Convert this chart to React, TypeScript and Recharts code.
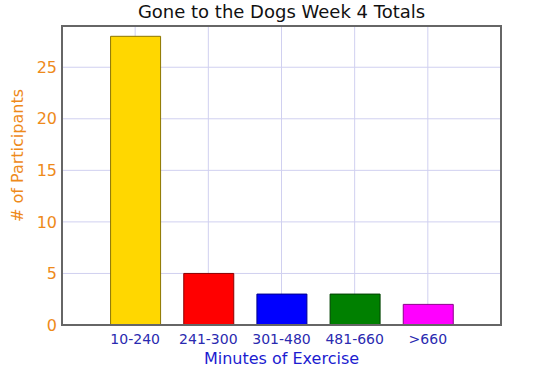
import React from 'react';
import { BarChart, Bar, XAxis, YAxis, CartesianGrid, Cell, ReferenceArea, Label } from 'recharts';

const categories = ['10-240', '241-300', '301-480', '481-660', '>660'];
const values = [28, 5, 3, 3, 2];
const fills = ['#FFD700', '#FF0000', '#0000FF', '#008000', '#FF00FF'];
const strokes = ['#8B7500', '#8B0000', '#00008B', '#004000', '#8B008B'];
const yTicks = [0, 5, 10, 15, 20, 25];
const xPositions = [1, 2, 3, 4, 5];

const data = categories.map((c, i) => ({ x: xPositions[i], name: c, value: values[i] }));

const FONT = 'DejaVu Sans, Verdana, sans-serif';

const YLabel = (props: any) => {
  const vb = props.viewBox || { x: 0, y: 0, width: 0, height: 0 };
  const cx = 17;
  const cy = vb.y + vb.height / 2 - 20;
  return (
    <text
      x={cx}
      y={cy}
      transform={`rotate(-90, ${cx}, ${cy})`}
      textAnchor="middle"
      dominantBaseline="central"
      fill="#ee8a1a"
      fontSize={16}
      fontFamily={FONT}
    >
      # of Participants
    </text>
  );
};

export default function App() {
  return (
    <div style={{ position: 'absolute', left: 0, top: 0, width: 537, height: 372, background: '#fff' }}>
      <div style={{ position: 'absolute', left: 62, top: 1, width: 439, textAlign: 'center', fontFamily: FONT, fontSize: 18, color: '#111' }}>
        Gone to the Dogs Week 4 Totals
      </div>
      <BarChart width={537} height={372} data={data} margin={{ top: 26, right: 36, bottom: 0, left: 0 }}>
        <CartesianGrid stroke="#d0d0f0" strokeWidth={1} />
        <XAxis
          dataKey="x"
          type="number"
          domain={[0, 6]}
          ticks={xPositions}
          tickFormatter={(v: number) => categories[v - 1]}
          tickLine={false}
          tickSize={0}
          axisLine={{ stroke: '#666', strokeWidth: 2 }}
          height={47}
          tick={{ fill: '#2a2ab0', fontSize: 14, fontFamily: FONT }}
          tickMargin={9}
          interval={0}
        >
          <Label value="Minutes of Exercise" position="insideBottom" offset={8} fill="#1c1cd0" fontSize={16} fontFamily={FONT} />
        </XAxis>
        <YAxis
          type="number"
          domain={[0, 29]}
          ticks={yTicks}
          tickLine={false}
          tickSize={0}
          axisLine={{ stroke: '#666', strokeWidth: 2 }}
          width={62}
          tick={{ fill: '#ee8a1a', fontSize: 16, fontFamily: FONT }}
          tickMargin={5}
          allowDataOverflow
        >
          <Label content={<YLabel />} />
        </YAxis>
        <ReferenceArea x1={0} x2={6} y1={0} y2={29} fill="none" stroke="#666" strokeWidth={2} ifOverflow="visible" />
        <Bar dataKey="value" barSize={50} isAnimationActive={false}>
          {data.map((d, i) => (
            <Cell key={d.name} fill={fills[i]} stroke={strokes[i]} strokeWidth={1} />
          ))}
        </Bar>
      </BarChart>
    </div>
  );
}
